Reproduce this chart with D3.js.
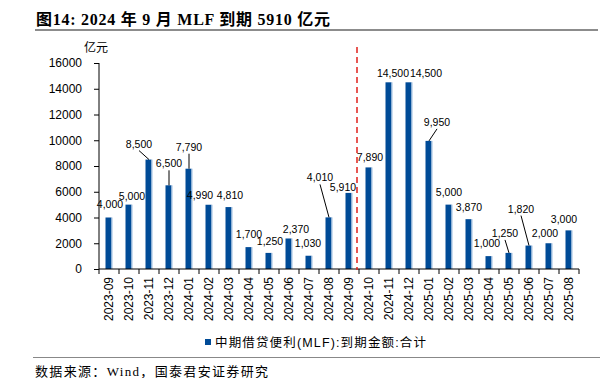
<!DOCTYPE html>
<html>
<head>
    <meta charset="utf-8">
    <title>2024年9月 MLF 到期</title>
    <script src="https://cdnjs.cloudflare.com/ajax/libs/d3/7.8.5/d3.min.js"></script>
    <style>
        body { margin: 0; background: #fff; }
        text { font-family: "Liberation Sans", Arial, "Noto Sans CJK SC", sans-serif; }
    </style>
</head>
<body>
<div id="graph"></div>
<script>
    var months = ["2023-09", "2023-10", "2023-11", "2023-12", "2024-01", "2024-02", "2024-03", "2024-04",
        "2024-05", "2024-06", "2024-07", "2024-08", "2024-09", "2024-10", "2024-11", "2024-12",
        "2025-01", "2025-02", "2025-03", "2025-04", "2025-05", "2025-06", "2025-07", "2025-08"];
    var maturity = [4000, 5000, 8500, 6500, 7790, 4990, 4810, 1700, 1250, 2370, 1030, 4010,
        5910, 7890, 14500, 14500, 9950, 5000, 3870, 1000, 1250, 1820, 2000, 3000];
    var yTicks = [0, 2000, 4000, 6000, 8000, 10000, 12000, 14000, 16000];

    // label offsets from the top of each bar [dx, dy, leader line?]
    var labelPos = [[1, -14, 0], [3, -9, 0], [-10, -16, 1], [0, -22, 1], [0, -22, 1], [-9, -10, 0],
        [1, -12, 0], [0, -13, 0], [1, -12, 0], [7, -9, 0], [-1, -13, 0], [-9, -40, 1],
        [-6, -6, 0], [1, -10, 0], [4, -9, 0], [17, -9, 0], [8, -19, 1], [0, -13, 0],
        [0, -12, 0], [-2, -13, 0], [-4, -20, 1], [-8, -37, 1], [-4, -10, 0], [-5, -11, 0]];

    var width = 602, height = 378;
    var svg = d3.select("#graph").append("svg")
        .attr("width", width)
        .attr("height", height);

    // title
    svg.append("text")
        .attr("x", 36).attr("y", 25)
        .attr("textLength", 294)
        .attr("lengthAdjust", "spacing")
        .style("font-family", "'Liberation Serif', 'Times New Roman', 'Noto Sans CJK SC', serif")
        .style("font-weight", "bold")
        .style("font-size", "16px")
        .text("图14: 2024 年 9 月 MLF 到期 5910 亿元");
    svg.append("line")
        .attr("x1", 35).attr("x2", 598).attr("y1", 30).attr("y2", 30)
        .attr("stroke", "#666").attr("stroke-width", 1.5);

    var x = d3.scaleBand().domain(months).range([99, 579]);
    var y = d3.scaleLinear().domain([0, 16000]).range([269, 63]);

    var g = svg.append("g");

    // y axis
    var yAxis = g.append("g")
        .attr("transform", "translate(99,0)")
        .call(d3.axisLeft(y).tickValues(yTicks).tickSize(5).tickPadding(12).tickFormat(d3.format("d")));
    yAxis.selectAll("text").style("font-size", "12px").attr("fill", "#000");
    yAxis.selectAll("line, path").attr("stroke", "#000");
    yAxis.select(".domain").attr("d", "M0," + y(16000) + "V" + y(0));

    g.append("text")
        .attr("x", 84).attr("y", 52)
        .style("font-size", "12px")
        .text("亿元");

    // bars
    g.selectAll("rect.bar")
        .data(maturity)
        .enter().append("rect")
        .attr("class", "bar")
        .attr("x", function (d, i) { return x(months[i]) + x.bandwidth() / 2 - 3.5; })
        .attr("y", function (d) { return y(d); })
        .attr("width", 6)
        .attr("height", function (d) { return y(0) - y(d); })
        .attr("fill", "#004b97");
    g.selectAll("rect.edge")
        .data(maturity)
        .enter().append("rect")
        .attr("class", "edge")
        .attr("x", function (d, i) { return x(months[i]) + x.bandwidth() / 2 + 2.5; })
        .attr("y", function (d) { return y(d); })
        .attr("width", 1)
        .attr("height", function (d) { return y(0) - y(d); })
        .attr("fill", "#9dbde0");

    // x axis
    var boundaries = months.map(function (m) { return x(m); }).concat([x.range()[1]]);
    var xAxis = g.append("g").attr("transform", "translate(0,269)");
    xAxis.append("line")
        .attr("x1", 99).attr("x2", 579)
        .attr("stroke", "#000");
    xAxis.selectAll("line.tick")
        .data(boundaries)
        .enter().append("line")
        .attr("x1", function (d) { return d; })
        .attr("x2", function (d) { return d; })
        .attr("y1", 0).attr("y2", 5)
        .attr("stroke", "#000");
    xAxis.selectAll("text")
        .data(months)
        .enter().append("text")
        .attr("transform", function (d) {
            return "translate(" + (x(d) + x.bandwidth() / 2 + 4) + ",8) rotate(-90)";
        })
        .attr("text-anchor", "end")
        .style("font-size", "12px")
        .text(function (d) { return d; });

    // red dashed divider
    g.append("line")
        .attr("x1", 357).attr("x2", 357)
        .attr("y1", 47).attr("y2", 270)
        .attr("stroke", "#e0201b")
        .attr("stroke-width", 1.5)
        .attr("stroke-dasharray", "6,4");

    // value labels
    var fmt = d3.format(",");
    maturity.forEach(function (v, i) {
        var cx = x(months[i]) + x.bandwidth() / 2;
        var top = y(v);
        var p = labelPos[i];
        var lx = cx + p[0], ly = top + p[1];
        if (p[2]) {
            g.append("line")
                .attr("x1", lx).attr("y1", ly + 7)
                .attr("x2", cx).attr("y2", top)
                .attr("stroke", "#000").attr("stroke-width", 1);
        }
        g.append("text")
            .attr("x", lx).attr("y", ly + 4)
            .attr("text-anchor", "middle")
            .style("font-size", "10.5px")
            .text(fmt(v));
    });

    // legend
    svg.append("rect")
        .attr("x", 205).attr("y", 339).attr("width", 6).attr("height", 6)
        .attr("fill", "#004b97");
    svg.append("text")
        .attr("x", 215).attr("y", 347)
        .attr("textLength", 211)
        .attr("lengthAdjust", "spacing")
        .style("font-size", "12.5px")
        .text("中期借贷便利(MLF):到期金额:合计");

    // source
    svg.append("line")
        .attr("x1", 33).attr("x2", 600).attr("y1", 357.5).attr("y2", 357.5)
        .attr("stroke", "#888").attr("stroke-width", 1);
    svg.append("text")
        .attr("x", 35).attr("y", 376)
        .attr("textLength", 233)
        .attr("lengthAdjust", "spacing")
        .style("font-family", "'Liberation Serif', 'Noto Sans CJK SC', serif")
        .style("font-size", "13px")
        .text("数据来源：Wind，国泰君安证券研究");
</script>
</body>
</html>
